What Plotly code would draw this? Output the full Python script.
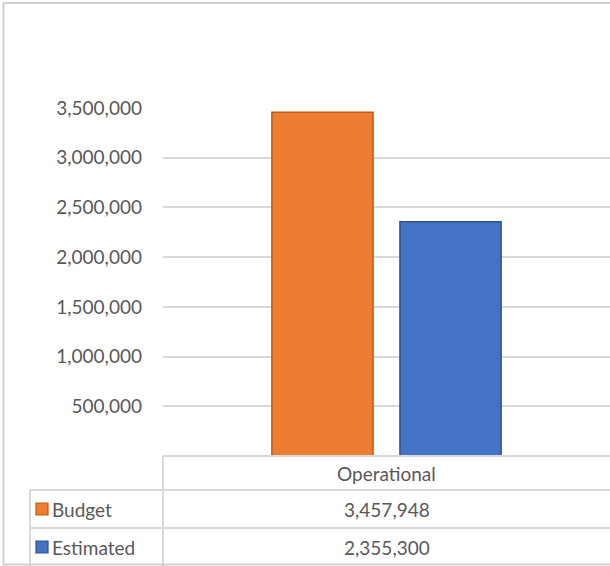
import plotly.graph_objects as go

categories = ["Operational"]
series_names = ["Budget", "Estimated"]
budget_values = [3457948]
estimated_values = [2355300]
tick_values = [500000, 1000000, 1500000, 2000000, 2500000, 3000000, 3500000]
tick_labels = ["500,000", "1,000,000", "1,500,000", "2,000,000", "2,500,000", "3,000,000", "3,500,000"]

fill_colors = ["#ED7D31", "#4472C4"]
line_colors = ["#C55A11", "#2F528F"]

W, H = 610, 566
L, R, T, B = 163, 0, 108, 110
PW, PH = W - L - R, H - T - B

def px(x):
    return (x - L) / PW

def py(y):
    return (H - B - y) / PH

FONT = "Lato, Open Sans, sans-serif"
TXT = "#595959"
GRID = "#D9D9D9"
FS = 19

fig = go.Figure()
for name, vals, fc, lc in zip(series_names, [budget_values, estimated_values], fill_colors, line_colors):
    fig.add_trace(go.Bar(x=categories, y=vals, name=name, hoverinfo="skip",
                         marker=dict(color=fc, line=dict(color=lc, width=1.5))))

shapes = []
def hline(y, x0, x1, color=GRID, w=2):
    shapes.append(dict(type="line", xref="paper", yref="paper", x0=px(x0), x1=px(x1),
                       y0=py(y), y1=py(y), line=dict(color=color, width=w)))
def vline(x, y0, y1, color=GRID, w=2):
    shapes.append(dict(type="line", xref="paper", yref="paper", x0=px(x), x1=px(x),
                       y0=py(y0), y1=py(y1), line=dict(color=color, width=w)))

# data table grid
hline(456, 163, 612)
hline(490, 30, 612)
hline(528, 30, 612)
vline(163, 456, 566)
vline(30, 490, 566)
# outer chart frame
hline(3, 3, 612, "#D0D0D0", 2)
hline(564.5, 3, 612, "#D0D0D0", 2)
vline(3.5, 3, 565, "#D0D0D0", 2)

annotations = []
annotations.append(dict(text=categories[0], xref="paper", yref="paper", x=0.5, y=py(473),
                        xanchor="center", yanchor="middle",
                        showarrow=False, font=dict(family=FONT, size=FS, color=TXT)))
row_y = [509, 547]
for name, vals, fc, lc, ry in zip(series_names, [budget_values, estimated_values], fill_colors, line_colors, row_y):
    annotations.append(dict(text=f"{vals[0]:,}", xref="paper", yref="paper", x=0.5, y=py(ry),
                            xanchor="center", yanchor="middle",
                            showarrow=False, font=dict(family=FONT, size=FS, color=TXT)))
    annotations.append(dict(text=name, xref="paper", yref="paper", x=px(50), y=py(ry),
                            xanchor="left", yanchor="middle",
                            showarrow=False, font=dict(family=FONT, size=FS, color=TXT)))
    shapes.append(dict(type="rect", xref="paper", yref="paper", x0=px(36), x1=px(48),
                       y0=py(ry + 6), y1=py(ry - 6), fillcolor=fc, line=dict(color=lc, width=1.2)))

fig.update_layout(
    width=W, height=H,
    margin=dict(l=L, r=R, t=T, b=B, pad=0),
    paper_bgcolor="white", plot_bgcolor="white",
    barmode="group", bargap=0.427, bargroupgap=0.21,
    showlegend=False,
    xaxis=dict(showticklabels=False, showgrid=False, zeroline=False, showline=False),
    yaxis=dict(range=[0, 3500000], tickvals=tick_values, ticktext=tick_labels,
               showgrid=True, gridcolor=GRID, gridwidth=1.5, zeroline=False, showline=False,
               ticklabelstandoff=20, tickfont=dict(family=FONT, size=FS, color=TXT)),
    shapes=shapes, annotations=annotations,
)
fig.write_html("out.html", config={"displayModeBar": False},
               post_script="document.body.style.margin='0';document.body.style.overflow='hidden';")
